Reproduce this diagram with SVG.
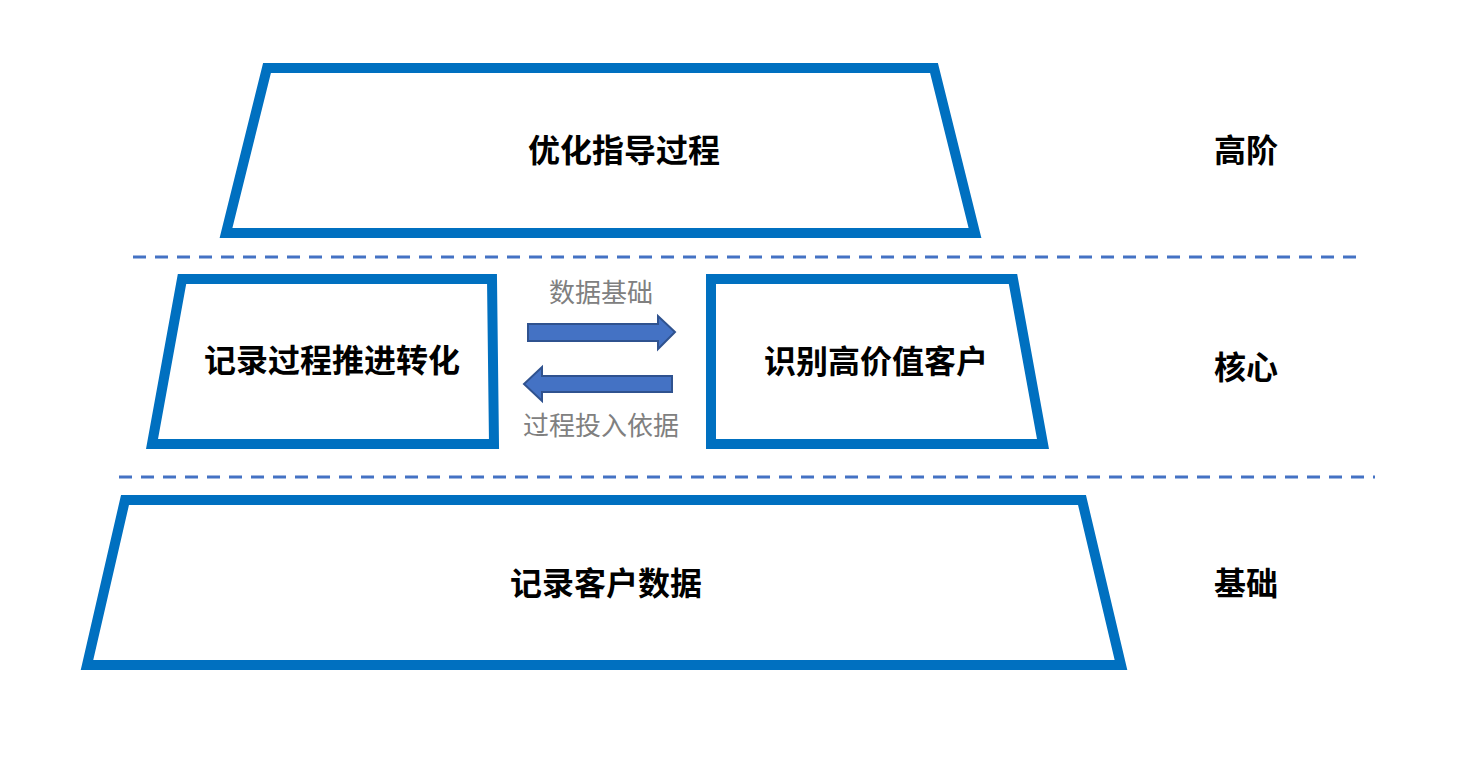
<svg xmlns="http://www.w3.org/2000/svg" width="1460" height="773" viewBox="0 0 1460 773">
<style>
.box{fill:#fff;stroke:#0070C0;stroke-width:10;stroke-linejoin:miter}
.t{font-family:"Liberation Sans","Noto Sans CJK SC",sans-serif;font-size:32px;font-weight:bold;fill:#000;text-anchor:middle;dominant-baseline:central}
.g{font-family:"Liberation Sans","Noto Sans CJK SC",sans-serif;font-size:26px;fill:#808080;text-anchor:middle;dominant-baseline:central}
.dash{stroke:#4472C4;stroke-width:3;stroke-dasharray:13 9;fill:none}
.arr{fill:#4472C4;stroke:#2F528F;stroke-width:2}
</style>
<rect width="1460" height="773" fill="#fff"/>
<g id="top"><polygon class="box" points="226,233 267,68 934,68 975,233"/><text class="t" x="624" y="151">优化指导过程</text></g>
<g id="left"><polygon class="box" points="152,444 182,279 492,279 494,444"/><text class="t" x="332" y="361">记录过程推进转化</text></g>
<g id="right"><polygon class="box" points="711,279 1013,279 1043,444 711,444"/><text class="t" x="876" y="362">识别高价值客户</text></g>
<g id="bottom"><polygon class="box" points="87,665 125,500 1082,500 1121,665"/><text class="t" x="606" y="584">记录客户数据</text></g>
<g id="level1"><text class="t" x="1246" y="151">高阶</text></g>
<g id="level2"><text class="t" x="1246" y="368">核心</text></g>
<g id="level3"><text class="t" x="1246" y="584">基础</text></g>
<g id="connectors">
<line class="dash" x1="133" y1="257" x2="1360" y2="257"/>
<line class="dash" x1="119" y1="477" x2="1375" y2="477"/>
<polygon class="arr" points="528,324 658,324 658,316 675,332 658,349 658,341 528,341"/>
<polygon class="arr" points="672,376 542,376 542,367 524,384 542,401 542,392 672,392"/>
<text class="g" x="601" y="293">数据基础</text>
<text class="g" x="601" y="426">过程投入依据</text>
</g>
</svg>
